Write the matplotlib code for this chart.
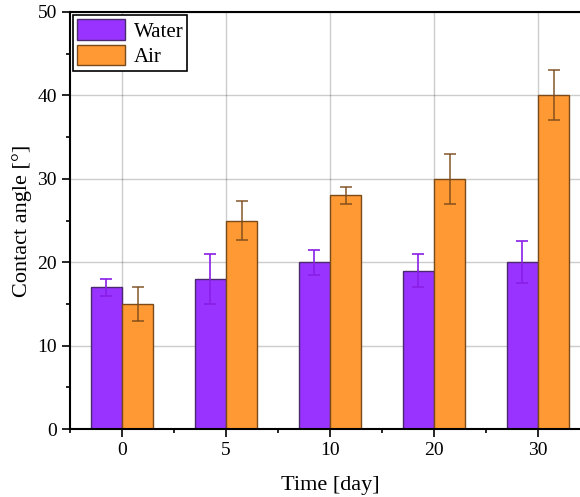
import numpy as np
import matplotlib.pyplot as plt
from matplotlib.ticker import MultipleLocator

plt.rcParams['font.family'] = ['Liberation Serif', 'DejaVu Serif']

days = ['0', '5', '10', '20', '30']
water = [17, 18, 20, 19, 20]
water_err = [1, 3, 1.5, 2, 2.5]
air = [15, 25, 28, 30, 40]
air_err = [2, 2.3, 1, 3, 3]

fig = plt.figure(figsize=(5.8, 4.97), dpi=100)
ax = fig.add_axes([70/580, 68/497, 520/580, 417/497])

x = np.arange(len(days))
w = 0.3
ax.bar(x - w/2, water, w, color='#9933ff', edgecolor='#4b2a70', linewidth=1, zorder=2, label='Water')
ax.bar(x + w/2, air, w, color='#ff9933', edgecolor='#7a4a1a', linewidth=1, zorder=2, label='Air')
ax.errorbar(x - w/2, water, yerr=water_err, fmt='none', ecolor='#8a1ee6', elinewidth=1.2, capsize=4, capthick=1.2, zorder=4)
ax.errorbar(x + w/2, air, yerr=air_err, fmt='none', ecolor='#7a4a1a', elinewidth=1.2, capsize=4, capthick=1.2, alpha=0.85, zorder=4)

ax.set_xlim(-0.5, 4.5)
ax.set_ylim(0, 50)
ax.set_xticks(x)
ax.set_xticklabels(days)
ax.xaxis.set_minor_locator(MultipleLocator(0.5))
ax.yaxis.set_major_locator(MultipleLocator(10))
ax.yaxis.set_minor_locator(MultipleLocator(5))
ax.tick_params(which='major', direction='out', length=6, width=1.2, labelsize=14)
ax.tick_params(which='minor', direction='out', length=3, width=1.2)
for s in ax.spines.values():
    s.set_linewidth(1.5)
ax.grid(True, which='major', color='black', alpha=0.2, linewidth=1, zorder=3)

ax.set_xlabel('Time [day]', fontsize=16, labelpad=12)
ax.set_ylabel('Contact angle [°]', fontsize=16)

leg = ax.legend(loc='upper left', fontsize=15, frameon=True, fancybox=False, edgecolor='black',
                handlelength=2.3, handleheight=1.15, borderaxespad=0.15, borderpad=0.2, labelspacing=0.15,
                handletextpad=0.4, framealpha=1)
leg.get_frame().set_linewidth(1.2)
leg.set_zorder(5)

plt.savefig('out.png', dpi=100)
